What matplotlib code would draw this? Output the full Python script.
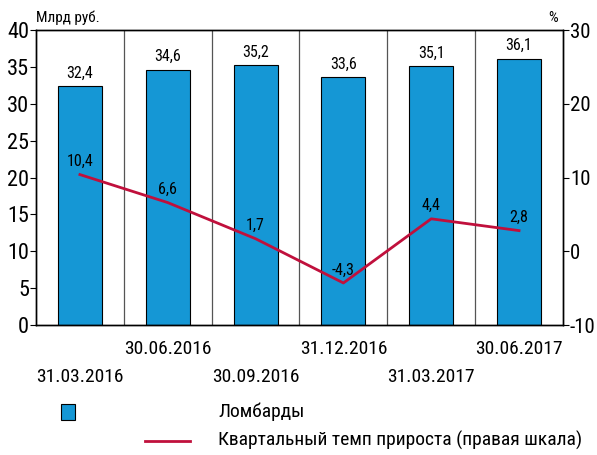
import matplotlib.pyplot as plt
from matplotlib.patches import Rectangle
from matplotlib.lines import Line2D
from matplotlib import font_manager

# ---- данные ----
dates = ["31.03.2016", "30.06.2016", "30.09.2016", "31.12.2016", "31.03.2017", "30.06.2017"]
lombards = [32.4, 34.6, 35.2, 33.6, 35.1, 36.1]
growth = [10.4, 6.6, 1.7, -4.3, 4.4, 2.8]

# узкий шрифт, если есть
names = {f.name for f in font_manager.fontManager.ttflist}
fam = 'Liberation Sans'
for cand in ['Liberation Sans Narrow', 'Roboto Condensed', 'Open Sans Condensed', 'DejaVu Sans Condensed']:
    if cand in names:
        fam = cand
        break
narrow = fam != 'Liberation Sans'
plt.rcParams['font.family'] = [fam, 'DejaVu Sans']
plt.rcParams['axes.unicode_minus'] = False
k = 1.0 if narrow else 0.82   # уменьшаем кегль, если узкого шрифта нет

BAR = '#1597d5'
LINE = '#c0103c'

fig = plt.figure(figsize=(5.97, 4.55), dpi=100)
ax = fig.add_axes([0.0603, 0.2857, 0.8827, 0.6483])
x = list(range(len(dates)))

ax.bar(x, lombards, width=0.5, color=BAR, edgecolor='black', linewidth=0.8, zorder=2)
for xi, v in zip(x, lombards):
    ax.annotate(f"{v:.1f}".replace('.', ','), (xi, v), xytext=(0, 4),
                textcoords='offset points', ha='center', va='bottom', fontsize=11.5 * k)

for i in range(1, len(dates)):
    ax.axvline(i - 0.5, color='#555555', linewidth=0.9, zorder=1)

ax.set_xlim(-0.5, len(dates) - 0.5)
ax.set_ylim(0, 40)
ax.set_yticks(range(0, 41, 5))
ax.tick_params(axis='y', labelsize=16 * k, length=4, pad=1)
ax.set_xticks([])
# подписи дат в два ряда
for xi, d in zip(x, dates):
    yoff = -0.145 if xi % 2 == 0 else -0.05
    ax.text(xi, yoff, d, transform=ax.get_xaxis_transform(), ha='center', va='top',
            fontsize=14 * k)

ax2 = ax.twinx()
ax2.plot(x, growth, color=LINE, linewidth=2, zorder=3)
for xi, v in zip(x, growth):
    ax2.annotate(f"{v:.1f}".replace('.', ','), (xi, v), xytext=(0, 4),
                 textcoords='offset points', ha='center', va='bottom', fontsize=11.5 * k)
ax2.set_ylim(-10, 30)
ax2.set_yticks(range(-10, 31, 10))
ax2.tick_params(axis='y', labelsize=15 * k, length=4, pad=1)

for a in (ax, ax2):
    for s in a.spines.values():
        s.set_linewidth(1.0)

fig.text(0.0603, 0.945, "Млрд руб.", ha='left', va='bottom', fontsize=11 * k)
fig.text(0.935, 0.945, "%", ha='right', va='bottom', fontsize=11 * k)

# легенда вручную
fig.patches.append(Rectangle((0.103, 0.078), 0.022, 0.033, transform=fig.transFigure,
                             facecolor=BAR, edgecolor='black', linewidth=0.8))
fig.lines.append(Line2D([0.243, 0.318], [0.031, 0.031], transform=fig.transFigure,
                        color=LINE, linewidth=2))
fig.text(0.365, 0.095, "Ломбарды", ha='left', va='center', fontsize=14 * k)
fig.text(0.365, 0.031, "Квартальный темп прироста (правая шкала)", ha='left', va='center',
         fontsize=14 * k)

fig.savefig("out.png", dpi=100)
